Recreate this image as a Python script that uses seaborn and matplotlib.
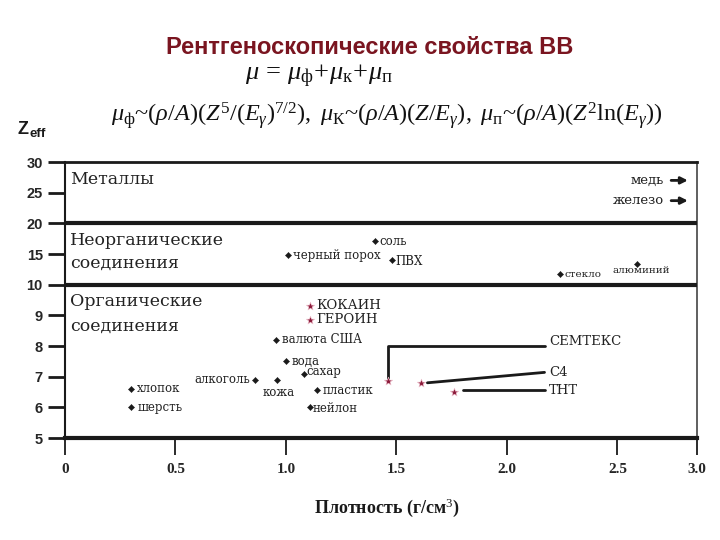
import numpy as np
import pandas as pd
import matplotlib
matplotlib.use("Agg")
import matplotlib.pyplot as plt
import seaborn as sns

# ---------------- data ----------------
common_names = ["хлопок", "шерсть", "алкоголь", "кожа", "валюта США", "вода",
                "сахар", "пластик", "нейлон", "черный порох", "соль", "ПВХ",
                "стекло", "алюминий"]
common_density = [0.30, 0.30, 0.86, 0.96, 0.955, 1.00, 1.08, 1.14, 1.11,
                  1.01, 1.405, 1.48, 2.24, 2.62]
common_zeff = [6.6, 6.0, 6.9, 6.9, 8.2, 7.5, 7.1, 6.55, 6.0,
               14.8, 17.1, 14.0, 11.8, 13.4]

threat_names = ["КОКАИН", "ГЕРОИН", "СЕМТЕКС", "С4", "ТНТ"]
threat_density = [1.11, 1.11, 1.46, 1.61, 1.76]
threat_zeff = [9.3, 8.85, 6.85, 6.8, 6.5]

metal_names = ["медь", "железо"]
metal_zeff = [27.0, 23.7]

section_bounds = [5, 10, 20, 30]
section_names = [["Органические", "соединения"],
                 ["Неорганические", "соединения"],
                 ["Металлы"]]

x_ticks = [0, 0.5, 1.0, 1.5, 2.0, 2.5, 3.0]
x_ticklabels = ["0", "0.5", "1.0", "1.5", "2.0", "2.5", "3.0"]
y_ticks = [5, 6, 7, 8, 9, 10, 15, 20, 25, 30]
y_ticklabels = [str(v) for v in y_ticks]

title = "Рентгеноскопические свойства ВВ"
x_label = "Плотность (г/см$^{3}$)"

# ---------------- styling / layout ----------------
sns.set_style("white")
plt.rcParams["font.family"] = ["DejaVu Serif", "DejaVu Sans"]
plt.rcParams["mathtext.fontset"] = "custom"
plt.rcParams["mathtext.rm"] = "Liberation Serif"
plt.rcParams["mathtext.it"] = "Liberation Serif:italic"
plt.rcParams["mathtext.bf"] = "Liberation Serif:bold"

LABEL_FONT = "DejaVu Serif"
INK = "#1a1a1a"
RED = "#8b1a3a"
TXT = "#222222"

# label offsets in pixels (dx, dy, ha, fontsize)
common_off = {
    "хлопок": (6, 0, "left", 8.5), "шерсть": (6, 0, "left", 8.5),
    "алкоголь": (-5, 0, "right", 8.5), "кожа": (2, -13, "center", 8.5),
    "валюта США": (6, 0, "left", 8.5), "вода": (6, 0, "left", 8.5),
    "сахар": (3, 2, "left", 8.5), "пластик": (6, 0, "left", 8.5),
    "нейлон": (2, -1, "left", 8.5), "черный порох": (5, 0, "left", 8.5),
    "соль": (4, 0, "left", 8.5), "ПВХ": (3, -1, "left", 8.5),
    "стекло": (5, -1, "left", 7.5), "алюминий": (5, -7, "center", 7.5),
}
threat_off = {"КОКАИН": (6, 1), "ГЕРОИН": (6, 0)}
leader_label_x = 2.17


def yf(y):
    y = np.asarray(y, dtype=float)
    return np.where(y <= 10, y - 5, 5 + (y - 10) / 5)


def yi(t):
    t = np.asarray(t, dtype=float)
    return np.where(t <= 5, t + 5, 10 + 5 * (t - 5))


def xf(x):
    x = np.asarray(x, dtype=float)
    return np.where(x <= 2.5, x, 2.5 + (x - 2.5) * 0.72)


def xi(t):
    t = np.asarray(t, dtype=float)
    return np.where(t <= 2.5, t, 2.5 + (t - 2.5) / 0.72)


fig = plt.figure(figsize=(7.2, 5.4), dpi=100)
ax = fig.add_axes([65 / 720, 1 - 438 / 540, (697 - 65) / 720, (438 - 162) / 540])
ax.set_xscale("function", functions=(xf, xi))
ax.set_yscale("function", functions=(yf, yi))
ax.set_xlim(0, 3.0)
ax.set_ylim(5, 30)

df_common = pd.DataFrame({"name": common_names, "density": common_density,
                          "zeff": common_zeff})
df_threat = pd.DataFrame({"name": threat_names, "density": threat_density,
                          "zeff": threat_zeff})

sns.scatterplot(data=df_common, x="density", y="zeff", marker="D", s=10,
                color=INK, edgecolor=INK, linewidth=0.3, ax=ax, zorder=4,
                legend=False)
sns.scatterplot(data=df_threat, x="density", y="zeff", marker="*", s=40,
                color=RED, edgecolor="#f2c6d2", linewidth=0.4, ax=ax, zorder=4,
                legend=False)

# section dividers
for b in section_bounds[1:-1]:
    ax.axhline(b, color=INK, lw=3, zorder=3)

# section names
sec_pos = [(0.493, 0.406), (0.717, 0.634), (0.935,)]
for names, ys in zip(section_names, sec_pos):
    for nm, yy in zip(names, ys):
        ax.text(0.008, yy, nm, transform=ax.transAxes, ha="left", va="center",
                fontsize=12.5, family=LABEL_FONT, color=TXT,
                fontweight="light")

# common labels
for _, r in df_common.iterrows():
    dx, dy, ha, fs = common_off[r["name"]]
    ax.annotate(r["name"], (r["density"], r["zeff"]), xytext=(dx, dy),
                textcoords="offset pixels", ha=ha, va="center", fontsize=fs,
                family=LABEL_FONT, color=TXT)

# threat labels
for _, r in df_threat.iterrows():
    if r["name"] in threat_off:
        dx, dy = threat_off[r["name"]]
        ax.annotate(r["name"], (r["density"], r["zeff"]), xytext=(dx, dy),
                    textcoords="offset pixels", ha="left", va="center",
                    fontsize=9.5, family=LABEL_FONT, color=TXT)

# leader lines for explosives
semtex = df_threat[df_threat["name"] == "СЕМТЕКС"].iloc[0]
c4 = df_threat[df_threat["name"] == "С4"].iloc[0]
tnt = df_threat[df_threat["name"] == "ТНТ"].iloc[0]
ax.plot([semtex.density, semtex.density, leader_label_x],
        [semtex.zeff + 0.1, 8.0, 8.0], color=INK, lw=2, zorder=3)
ax.plot([c4.density + 0.03, leader_label_x], [c4.zeff, 7.14], color=INK,
        lw=2, zorder=3)
ax.plot([tnt.density + 0.04, leader_label_x], [tnt.zeff + 0.05, tnt.zeff + 0.05],
        color=INK, lw=2, zorder=3)
ax.text(leader_label_x + 0.02, 8.15, "СЕМТЕКС", ha="left", va="center",
        fontsize=9.5, family=LABEL_FONT, color=TXT)
ax.text(leader_label_x + 0.02, 7.14, "С4", ha="left", va="center",
        fontsize=9.5, family=LABEL_FONT, color=TXT)
ax.text(leader_label_x + 0.02, tnt.zeff + 0.05, "ТНТ", ha="left", va="center",
        fontsize=9.5, family=LABEL_FONT, color=TXT)

# metals beyond the axis
for nm, z in zip(metal_names, metal_zeff):
    ax.annotate("", xy=(2.96, z), xytext=(2.82, z),
                arrowprops=dict(arrowstyle="-|>", color=INK, lw=2,
                                mutation_scale=10))
    ax.text(2.79, z, nm, ha="right", va="center", fontsize=9.5,
            family=LABEL_FONT, color=TXT)

# axes frame and ticks
for side in ["left", "right", "top", "bottom"]:
    ax.spines[side].set_visible(True)
    ax.spines[side].set_color(INK)
ax.spines["bottom"].set_linewidth(3)
ax.spines["top"].set_linewidth(2)
ax.spines["left"].set_linewidth(1.5)
ax.spines["right"].set_linewidth(1.2)
ax.spines["right"].set_color("#444444")

ax.set_xticks(x_ticks)
ax.set_xticklabels(x_ticklabels, fontsize=11, fontweight="bold",
                   family="Liberation Serif")
ax.set_yticks(y_ticks)
ax.set_yticklabels(y_ticklabels, fontsize=10.5, fontweight="bold",
                   family="Liberation Sans")
ax.minorticks_off()
ax.tick_params(axis="x", direction="out", length=12, width=1.3, pad=6,
               color=INK, bottom=True)
ax.tick_params(axis="y", direction="out", length=12, width=2, pad=4,
               color=INK, left=True)
ax.set_xlabel("")
ax.set_ylabel("")

# header texts
fig.text(0.514, 1 - 47 / 540, title, ha="center", va="center", fontsize=17,
         fontweight="bold", family="Liberation Sans", color="#7a1520")
fig.text(0.443, 1 - 76 / 540,
         r"$\mu\,=\,\mu_{\mathrm{ф}}\!+\!\mu_{\mathrm{к}}\!+\!\mu_{\mathrm{п}}$",
         ha="center", va="center", fontsize=19, color="#111111")
fig.text(0.538, 1 - 115 / 540,
         r"$\mu_{\mathrm{ф}}$~$(\rho/A)(Z^5/(E_\gamma)^{7/2}),\ \mu_{\mathrm{К}}$~"
         r"$(\rho/A)(Z/E_\gamma),\ \mu_{\mathrm{п}}$~$(\rho/A)(Z^2\mathrm{ln}(E_\gamma))$",
         ha="center", va="center", fontsize=17.5, family="Liberation Serif",
         color="#111111")

# Z_eff label
fig.text(18 / 720, 1 - 130 / 540, "Z", ha="left", va="center", fontsize=13,
         fontweight="bold", family="Liberation Sans", color=INK)
fig.text(30 / 720, 1 - 134 / 540, "eff", ha="left", va="center", fontsize=9.5,
         fontweight="bold", family="Liberation Sans", color=INK)

# x axis label
fig.text(0.537, 1 - 508 / 540, x_label, ha="center", va="center", fontsize=13,
         fontweight="bold", family="Liberation Serif", color=INK)

fig.savefig("out.png", dpi=100)
